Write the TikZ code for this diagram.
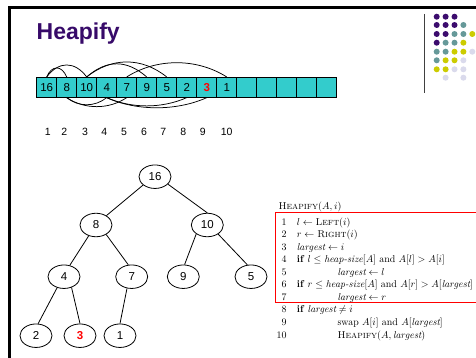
\documentclass[tikz,border=0pt]{standalone}
\usepackage{fontspec}
\newfontfamily\arial{Liberation Sans}
\usetikzlibrary{shapes.geometric}
\definecolor{titlepurple}{RGB}{55,10,105}
\definecolor{arrayteal}{RGB}{51,204,204}
\definecolor{dotP}{RGB}{60,12,110}
\definecolor{dotT}{RGB}{102,153,153}
\definecolor{dotY}{RGB}{204,204,0}
\definecolor{dotL}{RGB}{218,218,236}
\begin{document}
\begin{tikzpicture}[x=1pt,y=-1pt,
  cell/.style={draw=black, fill=arrayteal, minimum width=20pt, minimum height=20pt, inner sep=0pt, line width=0.7pt, font=\arial\fontsize{11.5}{12}\selectfont},
  tnode/.style={ellipse, draw, minimum width=32pt, minimum height=23.5pt, inner sep=0pt, line width=0.8pt, font=\arial\fontsize{11.5}{12}\selectfont},
  idx/.style={anchor=base, inner sep=0pt, font=\arial\fontsize{10.5}{12}\selectfont},
  arc/.style={line width=0.75pt},
  tedge/.style={line width=0.8pt},
  hot/.style={text=red, font=\arial\bfseries\fontsize{11.5}{12}\selectfont},
  code/.style={anchor=base west, inner sep=0pt, font=\fontsize{9.95}{11}\selectfont},
  lnum/.style={anchor=base east, inner sep=0pt, font=\fontsize{9.95}{11}\selectfont}]
\clip (0,0) rectangle (476,358);
\fill[white] (0,0) rectangle (476,358);
% frame
\draw[line width=3pt] (9.5,358) -- (9.5,7.3) -- (476,7.3);
% title
\node[anchor=base west, inner sep=0pt, text=titlepurple, font=\arial\bfseries\fontsize{23}{24}\selectfont] (title) at (36.5,39.3) {Heapify};
% decoration
\draw[line width=1pt, black!75] (424.3,14) -- (424.3,92.7);
\foreach \y/\cols in {16.7/{1/dotP,2/dotP,3/dotP},
                      25/{1/dotP,2/dotP,3/dotP,4/dotT},
                      34/{1/dotP,2/dotP,3/dotT,4/dotT,5/dotY},
                      42.7/{1/dotP,2/dotT,3/dotT,4/dotY},
                      51.7/{1/dotT,2/dotT,3/dotY,4/dotY,5/dotL},
                      60.3/{1/dotT,2/dotY,3/dotY,4/dotL},
                      69.3/{1/dotY,2/dotY,3/dotL,4/dotL},
                      77.7/{2/dotL,4/dotL}}{
  \foreach \c/\col in \cols {
    \fill[\col] ({436.7+8.9*(\c-1)},\y) circle (3pt);
  }
}
% array
\foreach \v [count=\k] in {16,8,10,4,7,9,5,2,{\textcolor{red}{\bfseries 3}},1,{},{},{},{},{}}{
  \node[cell] (c\k) at ({46.7+20*(\k-1)},87.3) {\v};
}
% arcs above
\draw[arc] (c1.north) .. controls +(5,-12) and +(-5,-12) .. (c2.north);
\draw[arc] (c1.north) .. controls +(12,-16) and +(-12,-16) .. (c3.north);
\draw[arc] (c3.north) .. controls +(20,-17.5) and +(-20,-17.5) .. (c6.north);
\draw[arc] (c3.north) .. controls +(25,-20) and +(-25,-20) .. (c7.north);
\draw[arc] (c5.north) .. controls +(30,-19) and +(-30,-19) .. (c10.north);
% arcs below
\draw[arc] (c2.south) .. controls +(12,9.5) and +(-12,9.5) .. (c4.south);
\draw[arc] (c2.south) .. controls +(18,12) and +(-18,12) .. (c5.south);
\draw[arc] (c4.south) .. controls +(25,11) and +(-25,11) .. (c8.south);
\draw[arc] (c4.south) .. controls +(30,13.5) and +(-30,13.5) .. (c9.south);
% indices
\foreach \x [count=\k] in {47.7,64.3,85,104.3,124,144,163.3,183.3,202.7,226.7}{
  \node[idx] (i\k) at (\x,135.5) {\k};
}
% tree
\node[tnode] (t16) at (155,176.7) {16};
\node[tnode] (t8) at (96,225) {8};
\node[tnode] (t10) at (207.3,225) {10};
\node[tnode] (t4) at (64,276.7) {4};
\node[tnode] (t7) at (131.7,276.7) {7};
\node[tnode] (t9) at (183.3,276.7) {9};
\node[tnode] (t5) at (251,276.7) {5};
\node[tnode] (t2) at (36,335.7) {2};
\node[tnode, hot] (t3) at (80,335.7) {3};
\node[tnode] (t1) at (120,335.7) {1};
\draw[tedge] (t16.-145) -- (t8.42);
\draw[tedge] (t16.-30) -- (t10.90);
\draw[tedge] (t8.-124) -- (t4.63);
\draw[tedge] (t8.-43) -- (t7.106);
\draw[tedge] (t10.-141) -- (t9.84);
\draw[tedge] (t10.-40) -- (t5.107);
\draw[tedge] (t4.-122) -- (t2.80);
\draw[tedge] (t4.-55) -- (t3.90);
\draw[tedge] (t7.-112) -- (t1.90);
% pseudocode
\node[code] (head) at (278.3,209.5) {\textsc{Heapify}$(A,i)$};
\draw[red, line width=0.8pt] (480,212.7) -- (275,212.7) -- (275,302.7) -- (480,302.7);
\def\cx{296.7}
\def\ix{337.3}
\node[lnum] (n1) at (286.8,225) {1};
\node[code] (l1) at (\cx,225) {$l \gets{}$\textsc{Left}$(i)$};
\node[lnum] (n2) at (286.8,237.6) {2};
\node[code] (l2) at (\cx,237.6) {$r \gets{}$\textsc{Right}$(i)$};
\node[lnum] (n3) at (286.8,250.1) {3};
\node[code] (l3) at (\cx,250.1) {$\mathit{largest} \gets i$};
\node[lnum] (n4) at (286.8,262.7) {4};
\node[code] (l4) at (\cx,262.7) {\textbf{if} $l \le{}$\textit{heap-size}$[A]$ and $A[l] > A[i]$};
\node[lnum] (n5) at (286.8,275.2) {5};
\node[code] (l5) at (\ix,275.2) {$\mathit{largest} \gets l$};
\node[lnum] (n6) at (286.8,287.8) {6};
\node[code] (l6) at (\cx,287.8) {\textbf{if} $r \le{}$\textit{heap-size}$[A]$ and $A[r] > A[\mathit{largest}]$};
\node[lnum] (n7) at (286.8,300.3) {7};
\node[code] (l7) at (\ix,300.3) {$\mathit{largest} \gets r$};
\node[lnum] (n8) at (286.8,312.9) {8};
\node[code] (l8) at (\cx,312.9) {\textbf{if} $\mathit{largest} \ne i$};
\node[lnum] (n9) at (286.8,325.4) {9};
\node[code] (l9) at (\ix,325.4) {swap $A[i]$ and $A[\mathit{largest}]$};
\node[lnum] (n10) at (286.8,338) {10};
\node[code] (l10) at (\ix,338) {\textsc{Heapify}$(A,\mathit{largest})$};
\end{tikzpicture}
\end{document}
